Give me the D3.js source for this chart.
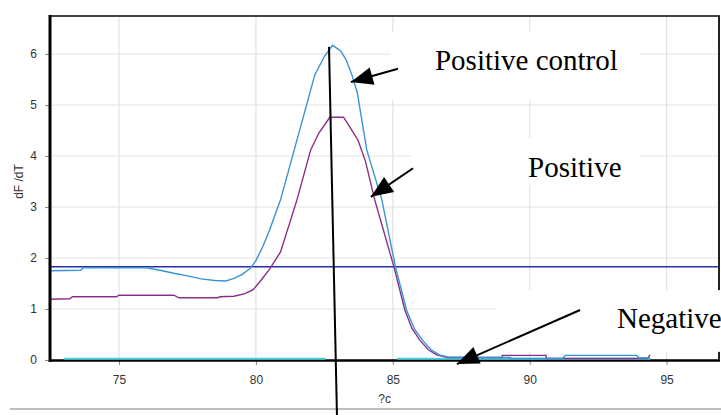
<!DOCTYPE html>
<html>
<head>
<meta charset="utf-8">
<script src="https://cdn.jsdelivr.net/npm/d3@7"></script>
<style>
  body { margin: 0; background: #fff; }
  svg { display: block; }
</style>
</head>
<body>
<svg id="chart"></svg>
<script>
// Melt curve data: temperature (?c) and dF/dT
var xTicks = [75, 80, 85, 90, 95];
var yTicks = [0, 1, 2, 3, 4, 5, 6];
var threshold = 1.83;

var ctrlTemp = [72.5, 73.6, 73.7, 76.0, 76.5, 77.0, 77.5, 78.0, 78.5, 78.9, 79.2, 79.5, 79.8, 80.0, 80.25, 80.5, 80.9, 81.4, 81.8, 82.15, 82.5, 82.8, 83.1, 83.3, 83.5, 83.7, 84.05, 84.6, 85.1, 85.5, 85.8, 86.1, 86.4, 86.7, 87.0, 88.0, 89.3, 89.3, 91.2, 91.3, 93.9, 94.0, 94.4];
var ctrlVal  = [1.75, 1.76, 1.81, 1.81, 1.76, 1.70, 1.65, 1.59, 1.56, 1.55, 1.60, 1.68, 1.80, 1.95, 2.22, 2.55, 3.14, 4.12, 4.90, 5.59, 5.95, 6.17, 6.06, 5.88, 5.60, 5.25, 4.12, 3.14, 1.82, 0.98, 0.60, 0.38, 0.20, 0.10, 0.06, 0.05, 0.05, 0.03, 0.03, 0.09, 0.09, 0.04, 0.04];

var posTemp = [72.5, 73.2, 73.3, 74.9, 75.0, 77.0, 77.2, 78.6, 78.7, 79.2, 79.6, 79.9, 80.15, 80.5, 80.9, 81.5, 82.0, 82.3, 82.7, 83.2, 83.45, 83.73, 84.0, 84.34, 85.04, 85.44, 85.7, 86.0, 86.3, 86.6, 87.0, 89.0, 89.0, 90.6, 90.6, 94.3, 94.4];
var posVal  = [1.19, 1.20, 1.24, 1.24, 1.27, 1.27, 1.22, 1.22, 1.24, 1.25, 1.30, 1.38, 1.54, 1.78, 2.12, 3.14, 4.12, 4.45, 4.76, 4.76, 4.55, 4.31, 3.90, 3.14, 1.83, 0.98, 0.62, 0.38, 0.20, 0.10, 0.05, 0.05, 0.09, 0.09, 0.03, 0.03, 0.10];

var negTemp = [73.0, 82.55, 82.6, 85.1, 85.15, 94.4];
var negVal  = [0.025, 0.025, NaN, NaN, 0.025, 0.025];

// Annotations, given in chart units
var notes = [
  {text: "Positive control", x: 86.54, y: 5.69, box: [84.9, 94.03, 6.43, 5.1]},
  {text: "Positive",         x: 89.94, y: 3.59, box: [85.7, 94.03, 4.35, 3.43]},
  {text: "Negative",         x: 93.19, y: 0.63, box: [88.73, 97.0, 1.37, 0.16]}
];
var arrows = [
  {from: [85.19, 5.71], to: [83.47, 5.45]},
  {from: [85.74, 3.76], to: [84.2, 3.2]},
  {from: [91.84, 0.98], to: [87.34, -0.08]}
];
var markerLine = {from: [82.67, 6.14], to: [82.96, -1.08]};

var W = 721, H = 415;
var margin = {top: 16, right: 1, bottom: 55, left: 50};

var svg = d3.select("#chart").attr("width", W).attr("height", H);

var x = d3.scaleLinear().domain([72.48, 96.95]).range([margin.left, W - margin.right]);
var y = d3.scaleLinear().domain([0, 6.745]).range([H - margin.bottom, margin.top]);

// grid
svg.append("g").selectAll("line").data(xTicks).enter().append("line")
  .attr("x1", d => x(d)).attr("x2", d => x(d))
  .attr("y1", y.range()[1]).attr("y2", y.range()[0])
  .attr("stroke", "#e3e3e3").attr("stroke-width", 1.2);
svg.append("g").selectAll("line").data(yTicks.slice(1)).enter().append("line")
  .attr("x1", x.range()[0]).attr("x2", x.range()[1])
  .attr("y1", d => y(d)).attr("y2", d => y(d))
  .attr("stroke", "#e3e3e3").attr("stroke-width", 1.2);

// threshold
svg.append("line")
  .attr("x1", x.range()[0]).attr("x2", x.range()[1])
  .attr("y1", y(threshold)).attr("y2", y(threshold))
  .attr("stroke", "#2b2fa6").attr("stroke-width", 1.5);

// axes
var xAxis = svg.append("g")
  .attr("transform", "translate(0," + y(0) + ")")
  .call(d3.axisBottom(x).tickValues(xTicks).tickFormat(d3.format("d")).tickSize(5).tickPadding(10).tickSizeOuter(0));
var yAxis = svg.append("g")
  .attr("transform", "translate(" + x.range()[0] + ",0)")
  .call(d3.axisLeft(y).tickValues(yTicks).tickFormat(d3.format("d")).tickSize(5).tickPadding(8).tickSizeOuter(0));
[xAxis, yAxis].forEach(function (g) {
  g.select(".domain").remove();
  g.selectAll(".tick line").attr("stroke", "#888");
  g.selectAll("text").attr("fill", "#333").style("font-family", "Liberation Sans, Arial, sans-serif").style("font-size", "12px");
});

// x axis line and frame
svg.append("line")
  .attr("x1", x.range()[0]).attr("x2", x.range()[1])
  .attr("y1", y(0) + 0.5).attr("y2", y(0) + 0.5)
  .attr("stroke", "#000").attr("stroke-width", 2.5);
svg.append("line")
  .attr("x1", x.range()[0]).attr("x2", x.range()[1])
  .attr("y1", y.range()[1]).attr("y2", y.range()[1])
  .attr("stroke", "#444").attr("stroke-width", 2);
svg.append("line")
  .attr("x1", x.range()[1] - 1).attr("x2", x.range()[1] - 1)
  .attr("y1", y.range()[1]).attr("y2", y(0))
  .attr("stroke", "#222").attr("stroke-width", 2);

// curves
var line = d3.line()
  .defined(d => !isNaN(d[1]))
  .x(d => x(d[0])).y(d => y(d[1]));

var series = [
  {temp: negTemp, val: negVal, color: "#46d2dc", w: 2},
  {temp: posTemp, val: posVal, color: "#8a2f86", w: 1.4},
  {temp: ctrlTemp, val: ctrlVal, color: "#3a93d4", w: 1.4}
];
svg.append("g").selectAll("path").data(series).enter().append("path")
  .attr("d", s => line(d3.zip(s.temp, s.val)))
  .attr("fill", "none")
  .attr("stroke", s => s.color)
  .attr("stroke-width", s => s.w);

// left axis line
svg.append("line")
  .attr("x1", x.range()[0]).attr("x2", x.range()[0])
  .attr("y1", y.range()[1] - 1).attr("y2", y(0) + 2)
  .attr("stroke", "#000").attr("stroke-width", 3);

// axis titles
svg.append("text")
  .attr("transform", "translate(23," + y(3.5) + ") rotate(-90)")
  .attr("text-anchor", "middle")
  .attr("fill", "#333")
  .style("font-family", "Liberation Sans, Arial, sans-serif").style("font-size", "12px")
  .text("dF /dT");
svg.append("text")
  .attr("x", x(84.7)).attr("y", 403)
  .attr("text-anchor", "middle")
  .attr("fill", "#333")
  .style("font-family", "Liberation Sans, Arial, sans-serif").style("font-size", "12px")
  .text("?c");

// window edge below chart
svg.append("line")
  .attr("x1", 10).attr("x2", W).attr("y1", 409).attr("y2", 409)
  .attr("stroke", "#aaa9a0").attr("stroke-width", 1.5);

// pasted label boxes
var noteG = svg.append("g").selectAll("g").data(notes).enter().append("g");
noteG.append("rect")
  .attr("x", d => x(d.box[0])).attr("y", d => y(d.box[2]))
  .attr("width", d => x(d.box[1]) - x(d.box[0]))
  .attr("height", d => y(d.box[3]) - y(d.box[2]))
  .attr("fill", "#fff");
noteG.append("text")
  .attr("x", d => x(d.x)).attr("y", d => y(d.y))
  .attr("fill", "#000")
  .style("font-family", "Liberation Serif, Times New Roman, serif").style("font-size", "29px")
  .text(d => d.text);

// arrows
function arrowHead(a) {
  var x0 = x(a.from[0]), y0 = y(a.from[1]), x1 = x(a.to[0]), y1 = y(a.to[1]);
  var dx = x1 - x0, dy = y1 - y0, len = Math.sqrt(dx * dx + dy * dy);
  var ux = dx / len, uy = dy / len, hl = 22, hw = 9;
  var bx = x1 - ux * hl, by = y1 - uy * hl;
  return [[x1, y1], [bx - uy * hw, by + ux * hw], [bx + uy * hw, by - ux * hw]];
}
var arrowG = svg.append("g").selectAll("g").data(arrows).enter().append("g");
arrowG.append("line")
  .attr("x1", d => x(d.from[0])).attr("y1", d => y(d.from[1]))
  .attr("x2", d => x(d.to[0])).attr("y2", d => y(d.to[1]))
  .attr("stroke", "#000").attr("stroke-width", 2);
arrowG.append("polygon")
  .attr("points", d => arrowHead(d).map(p => p.join(",")).join(" "))
  .attr("fill", "#000");

// vertical marker at the peak
svg.append("line")
  .attr("x1", x(markerLine.from[0])).attr("y1", y(markerLine.from[1]))
  .attr("x2", x(markerLine.to[0])).attr("y2", y(markerLine.to[1]))
  .attr("stroke", "#000").attr("stroke-width", 2);
</script>
</body>
</html>
